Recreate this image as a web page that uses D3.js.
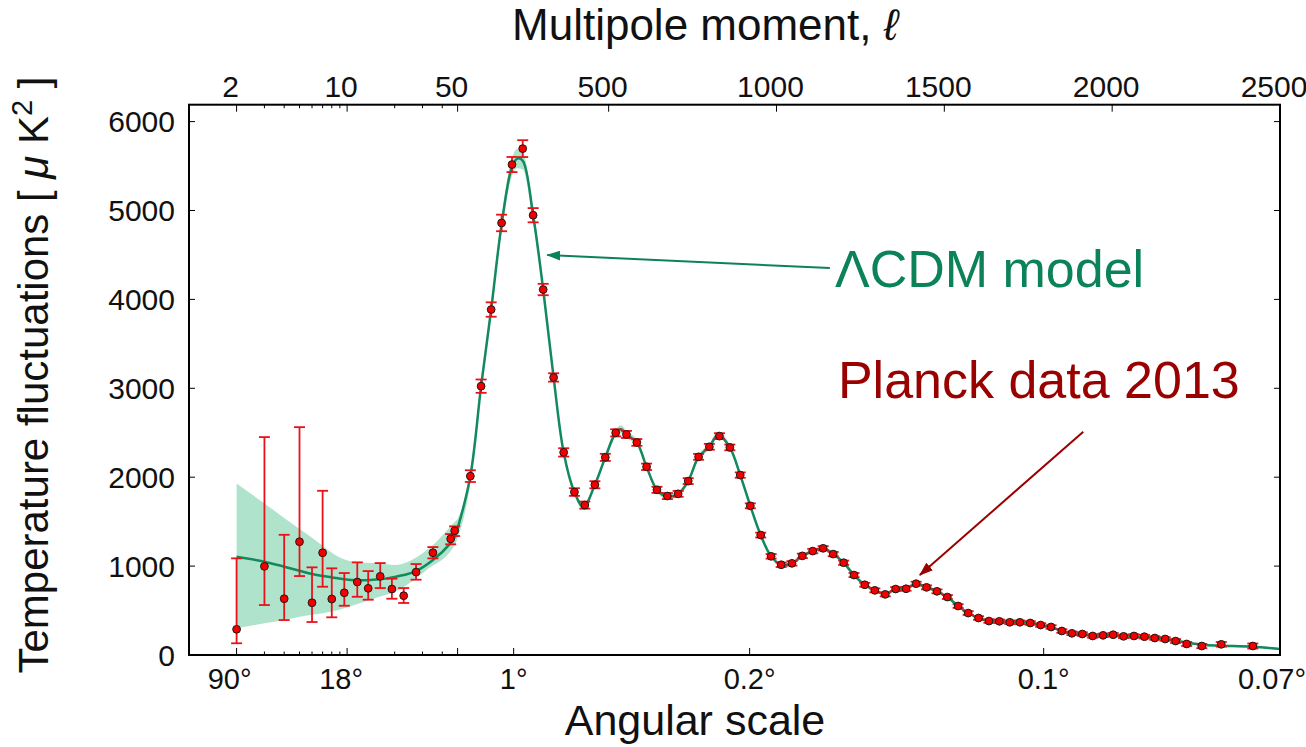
<!DOCTYPE html>
<html>
<head>
<meta charset="utf-8">
<title>Planck 2013 temperature power spectrum</title>
<script src="https://cdnjs.cloudflare.com/ajax/libs/d3/7.8.5/d3.min.js"></script>
<style>
  body { margin: 0; background: #fff; }
  text { font-family: "Liberation Sans", Arial, sans-serif; fill: #111; }
</style>
</head>
<body>
<svg width="1306" height="747"></svg>
<script>

// ---- data ----
// low multipoles (log part of the axis), asymmetric error bars
const lowEll = [2, 3, 4, 5, 6, 7, 8, 9.6, 11.6, 13.6, 16.2, 19.2, 22.8, 27.3, 34.9, 45.2, 47.9];
const lowD = [289, 997, 633, 1274, 588, 1150, 630, 700, 821, 750, 885, 742, 667, 933, 1150, 1307, 1397];
const lowErrDown = [157, 435, 240, 386, 217, 382, 206, 146, 166, 128, 132, 109, 82, 86, 63, 62, 59];
const lowErrUp = [798, 1454, 719, 1289, 398, 697, 345, 222, 221, 194, 149, 116, 86, 90, 64, 53, 50];

// binned high multipoles (linear part of the axis)
const binEll = [88, 120, 150, 181, 212, 244, 275, 305, 336, 366,
  398, 429, 459, 490, 521, 553, 584, 613, 644, 675,
  707, 737, 768, 800, 830, 861, 892, 922, 953, 984,
  1014, 1046, 1077, 1108, 1139, 1169, 1200, 1231, 1263, 1293,
  1324, 1355, 1386, 1416, 1447, 1478, 1509, 1541, 1571, 1602,
  1633, 1664, 1695, 1725, 1756, 1787, 1818, 1850, 1880, 1911,
  1942, 1973, 2003, 2034, 2065, 2096, 2127, 2158, 2189, 2222,
  2267, 2325, 2419];
const binD = [2012, 3024, 3886, 4860, 5517, 5696, 4947, 4111, 3122, 2279,
  1833, 1686, 1915, 2223, 2499, 2481, 2391, 2117, 1858, 1788,
  1813, 1956, 2229, 2342, 2462, 2335, 2024, 1678, 1349, 1110,
  1015, 1031, 1115, 1169, 1200, 1135, 1038, 899, 790, 727,
  682, 742, 745, 802, 761, 716, 652, 551, 472, 416,
  382, 379, 368, 368, 360, 337, 315, 270, 244, 236,
  214, 221, 228, 210, 214, 206, 191, 180, 157, 124,
  101, 120, 101];
const binErr = [66, 75, 81, 93, 85, 95, 80, 64, 47, 47,
  43, 40, 40, 40, 40, 40, 38, 36, 34, 34,
  33, 33, 33, 33, 33, 32, 30, 28, 27, 26,
  25, 25, 25, 25, 25, 24, 24, 23, 22, 22,
  22, 22, 22, 22, 22, 22, 22, 21, 21, 20,
  20, 20, 20, 20, 20, 20, 20, 20, 20, 20,
  20, 20, 20, 20, 20, 20, 20, 20, 22, 22,
  24, 26, 28];

// LCDM model curve
const modelEll = [2, 3, 4, 5, 6, 7, 8, 9.6, 11.6, 13.6, 16.2, 19.2, 22.8, 27.3, 34.9, 45, 48,
  50, 88, 120, 150, 181, 212, 228, 244, 275, 305,
  336, 366, 398, 425, 459, 490, 521, 537, 553, 584,
  613, 644, 675, 707, 737, 768, 800, 826, 861, 892,
  922, 953, 984, 1014, 1046, 1077, 1108, 1139, 1169, 1200,
  1231, 1263, 1293, 1324, 1355, 1386, 1416, 1447, 1478, 1509,
  1541, 1571, 1602, 1633, 1664, 1695, 1725, 1756, 1787, 1818,
  1850, 1880, 1911, 1942, 1973, 2003, 2034, 2065, 2096, 2127,
  2189, 2267, 2325, 2419, 2500];
const modelD = [1105, 1049, 993, 948, 911, 888, 873, 851, 840, 843, 851, 873, 899, 944, 1068, 1256, 1330,
  1424, 2012, 3024, 3886, 4840, 5490, 5584, 5560, 4947, 4111,
  3122, 2279, 1833, 1665, 1915, 2223, 2499, 2540, 2481, 2391,
  2117, 1858, 1783, 1813, 1956, 2229, 2342, 2478, 2335, 2024,
  1678, 1349, 1110, 1015, 1031, 1115, 1169, 1200, 1135, 1038,
  899, 790, 727, 688, 740, 752, 800, 765, 716, 652,
  551, 472, 416, 382, 379, 368, 368, 360, 337, 315,
  270, 244, 236, 218, 221, 222, 214, 210, 204, 193,
  160, 115, 105, 93, 67];

// shaded band: explicit at low ell, half-width around the model above ell = 50
const bandLowEll = [2, 3, 4, 5, 6, 7, 8.8, 11, 16, 20, 32, 48];
const bandLowLo = [300, 356, 393, 431, 452, 469, 505, 560, 655, 712, 960, 1240];
const bandLowHi = [1930, 1705, 1542, 1418, 1319, 1229, 1105, 1049, 1031, 1012, 1180, 1499];
const bandHalf = [110, 80, 70, 70, 80, 100, 110, 100, 80, 60,
  50, 40, 35, 35, 35, 35, 40, 45, 40, 35,
  30, 30, 30, 30, 30, 30, 30, 35, 30, 28,
  25, 22, 20, 20, 20, 20, 20, 20, 20, 18,
  18, 16, 16, 16, 16, 16, 16, 16, 15, 15,
  14, 14, 13, 13, 13, 13, 13, 13, 13, 12,
  12, 12, 12, 12, 12, 12, 12, 12, 12, 12,
  12, 12, 12, 12, 12];

// axes
const yTicks = [0, 1000, 2000, 3000, 4000, 5000, 6000];
const topTicks = [2, 10, 50, 500, 1000, 1500, 2000, 2500];
const minorTicks = [3, 4, 5, 6, 7, 8, 9, 20, 30, 40];
const angleEll = [2, 10, 217, 920, 1796, 2500];
const angleLabels = ["90°", "18°", "1°", "0.2°", "0.1°", "0.07°"];

// ---- layout ----
const svg = d3.select("svg");
const plotL = 189, plotR = 1280, plotT = 104.7, plotB = 655, splitX = 457.6;

const xLog = d3.scaleLog().domain([1, 50]).range([plotL, splitX]);
const xLin = d3.scaleLinear().domain([50, 2500]).range([splitX, plotR]);
const x = l => (l < 50 ? xLog(l) : xLin(l));
const y = d3.scaleLinear().domain([0, 6190]).range([plotB, plotT]);

const green = "#0c8258", darkRed = "#990000";

svg.append("defs").append("clipPath").attr("id", "plot")
  .append("rect").attr("x", plotL).attr("y", plotT)
  .attr("width", plotR - plotL).attr("height", plotB - plotT);

// model + band
const model = modelEll.map((l, i) => ({ l: l, d: modelD[i] }));
const band = bandLowEll.map((l, i) => ({ l: l, lo: bandLowLo[i], hi: bandLowHi[i] }))
  .concat(model.filter(m => m.l >= 50).map((m, i) => ({ l: m.l, lo: m.d - bandHalf[i], hi: m.d + bandHalf[i] })));

const g = svg.append("g").attr("clip-path", "url(#plot)");

g.append("path")
  .datum(band)
  .attr("fill", "#b0e3cc")
  .attr("d", d3.area()
    .x(d => x(d.l)).y0(d => y(d.lo)).y1(d => y(d.hi))
    .curve(d3.curveMonotoneX));

g.append("path")
  .datum(model)
  .attr("fill", "none")
  .attr("stroke", "#138a5e")
  .attr("stroke-width", 2.5)
  .attr("d", d3.line().x(d => x(d.l)).y(d => y(d.d)).curve(d3.curveCatmullRom.alpha(0.5)));

// data points
const points = lowEll.map((l, i) => ({ l: l, d: lowD[i], lo: lowD[i] - lowErrDown[i], hi: lowD[i] + lowErrUp[i] }))
  .concat(binEll.map((l, i) => ({ l: l, d: binD[i], lo: binD[i] - binErr[i], hi: binD[i] + binErr[i] })));

const errs = svg.append("g").attr("stroke", "#ea1219").attr("stroke-width", 1.8);
errs.selectAll("line.bar").data(points).join("line").attr("class", "bar")
  .attr("x1", d => x(d.l)).attr("x2", d => x(d.l))
  .attr("y1", d => y(d.lo)).attr("y2", d => y(d.hi));
errs.selectAll("line.capLo").data(points).join("line").attr("class", "capLo")
  .attr("x1", d => x(d.l) - 5.5).attr("x2", d => x(d.l) + 5.5)
  .attr("y1", d => y(d.lo)).attr("y2", d => y(d.lo));
errs.selectAll("line.capHi").data(points).join("line").attr("class", "capHi")
  .attr("x1", d => x(d.l) - 5.5).attr("x2", d => x(d.l) + 5.5)
  .attr("y1", d => y(d.hi)).attr("y2", d => y(d.hi));

svg.append("g").selectAll("circle").data(points).join("circle")
  .attr("cx", d => x(d.l)).attr("cy", d => y(d.d)).attr("r", 3.9)
  .attr("fill", "#f20000").attr("stroke", "#1a1a1a").attr("stroke-width", 1);

// ---- axes ----
const ax = svg.append("g").attr("stroke", "#000").attr("stroke-width", 1);
yTicks.forEach(v => {
  ax.append("line").attr("x1", plotL).attr("x2", plotL + 6).attr("y1", y(v)).attr("y2", y(v));
  ax.append("line").attr("x1", plotR).attr("x2", plotR - 6).attr("y1", y(v)).attr("y2", y(v));
});
topTicks.forEach(l => {
  ax.append("line").attr("x1", x(l)).attr("x2", x(l)).attr("y1", plotT).attr("y2", plotT + 7);
});
[2, 10, 50].concat(angleEll.slice(2)).forEach(l => {
  ax.append("line").attr("x1", x(l)).attr("x2", x(l)).attr("y1", plotB).attr("y2", plotB - 7);
});
minorTicks.forEach(l => {
  ax.append("line").attr("x1", x(l)).attr("x2", x(l)).attr("y1", plotT).attr("y2", plotT + 3.5);
  ax.append("line").attr("x1", x(l)).attr("x2", x(l)).attr("y1", plotB).attr("y2", plotB - 3.5);
});

svg.append("rect").attr("x", plotL).attr("y", plotT)
  .attr("width", plotR - plotL).attr("height", plotB - plotT)
  .attr("fill", "none").attr("stroke", "#000").attr("stroke-width", 2);

svg.append("g").selectAll("text").data(yTicks).join("text")
  .attr("x", 175).attr("y", d => y(d)).attr("dy", "0.36em")
  .attr("text-anchor", "end").attr("font-size", 30)
  .text(d => d);

svg.append("g").selectAll("text").data(topTicks).join("text")
  .attr("x", d => x(d) - 6).attr("y", 97)
  .attr("text-anchor", "middle").attr("font-size", 30)
  .text(d => d);

const angleNudge = [-7, -6, 0, 0, 0, -8];
svg.append("g").selectAll("text").data(angleEll).join("text")
  .attr("x", (d, i) => x(d) + angleNudge[i]).attr("y", 689)
  .attr("text-anchor", "middle").attr("font-size", 29)
  .text((d, i) => angleLabels[i]);

const title = svg.append("text").attr("x", 705).attr("y", 40).attr("text-anchor", "middle")
  .attr("font-size", 44);
title.append("tspan").text("Multipole moment, ");
title.append("tspan").attr("font-style", "italic").text("ℓ");

svg.append("text").attr("x", 695).attr("y", 735).attr("text-anchor", "middle")
  .attr("font-size", 43).text("Angular scale");

const yl = svg.append("text").attr("transform", "translate(48,375) rotate(-90)")
  .attr("text-anchor", "middle").attr("font-size", 42);
yl.append("tspan").text("Temperature fluctuations [ ");
yl.append("tspan").attr("font-style", "italic").text("μ");
yl.append("tspan").text(" K");
yl.append("tspan").attr("dy", -16).attr("font-size", 29).text("2");
yl.append("tspan").attr("dy", 16).text(" ]");

// ---- annotations ----
const defs = svg.select("defs");
[["headGreen", green], ["headRed", darkRed]].forEach(([id, c]) => {
  defs.append("marker").attr("id", id)
    .attr("viewBox", "0 0 14 10").attr("refX", 13).attr("refY", 5)
    .attr("markerWidth", 14).attr("markerHeight", 10)
    .attr("markerUnits", "userSpaceOnUse").attr("orient", "auto")
    .append("path").attr("d", "M0,0L14,5L0,10Z").attr("fill", c);
});

svg.append("line")
  .attr("x1", x(1159)).attr("y1", y(4353)).attr("x2", x(317)).attr("y2", y(4499))
  .attr("stroke", green).attr("stroke-width", 2).attr("marker-end", "url(#headGreen)");
svg.append("line")
  .attr("x1", x(1914)).attr("y1", y(2512)).attr("x2", x(1427)).attr("y2", y(900))
  .attr("stroke", darkRed).attr("stroke-width", 2).attr("marker-end", "url(#headRed)");

svg.append("text").attr("x", x(1174)).attr("y", y(4143))
  .attr("font-size", 52).style("fill", green).text("ΛCDM model");
svg.append("text").attr("x", x(1183)).attr("y", y(2887))
  .attr("font-size", 52).style("fill", darkRed).text("Planck data 2013");

</script>
</body>
</html>
